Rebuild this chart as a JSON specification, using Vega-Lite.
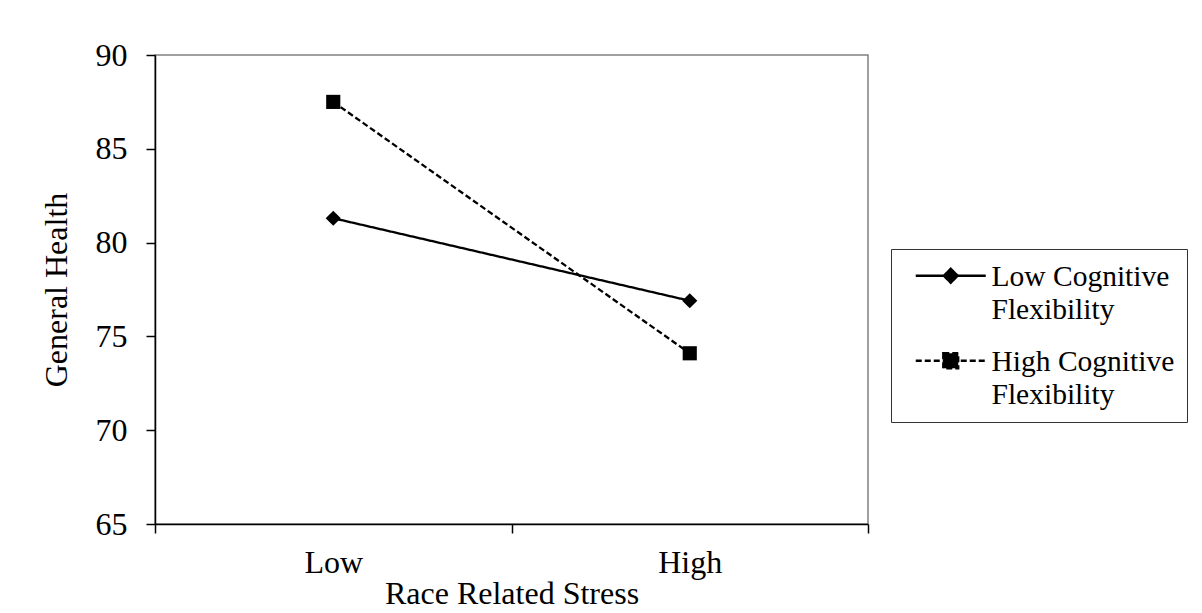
{
  "$schema": "https://vega.github.io/schema/vega-lite/v6.json",
  "autosize": "none",
  "width": 713,
  "height": 469,
  "padding": {"left": 155, "top": 55, "right": 334, "bottom": 89},
  "background": "white",
  "config": {
    "font": "Liberation Serif",
    "view": {"stroke": "#808080", "strokeWidth": 1.5},
    "axis": {
      "labelFont": "Liberation Serif",
      "titleFont": "Liberation Serif",
      "labelColor": "black",
      "titleColor": "black",
      "labelFontSize": 32,
      "titleFontSize": 32,
      "titleFontWeight": "normal",
      "domainColor": "black",
      "domainWidth": 1.5,
      "tickColor": "black",
      "tickWidth": 1.5,
      "tickSize": 9,
      "grid": false
    },
    "legend": {
      "labelFont": "Liberation Serif",
      "labelFontSize": 29.5,
      "labelColor": "black"
    }
  },
  "data": {
    "values": [
      {"stress": "Low", "group": "Low Cognitive Flexibility", "health": 81.3},
      {"stress": "High", "group": "Low Cognitive Flexibility", "health": 76.9},
      {"stress": "Low", "group": "High Cognitive Flexibility", "health": 87.5},
      {"stress": "High", "group": "High Cognitive Flexibility", "health": 74.1}
    ]
  },
  "encoding": {
    "x": {
      "field": "stress",
      "type": "nominal",
      "sort": ["Low", "High"],
      "scale": {"paddingInner": 0, "paddingOuter": 0},
      "axis": {
        "title": "Race Related Stress",
        "labelAngle": 0,
        "labelPadding": 14,
        "titlePadding": 0,
        "tickBand": "extent"
      }
    },
    "y": {
      "field": "health",
      "type": "quantitative",
      "scale": {"domain": [65, 90], "nice": false, "zero": false},
      "axis": {
        "title": "General Health",
        "values": [65, 70, 75, 80, 85, 90],
        "labelPadding": 19,
        "titlePadding": 22
      }
    }
  },
  "layer": [
    {
      "mark": {"type": "line", "color": "black", "strokeWidth": 2.3},
      "encoding": {
        "strokeDash": {
          "field": "group",
          "type": "nominal",
          "scale": {
            "domain": ["Low Cognitive Flexibility", "High Cognitive Flexibility"],
            "range": [[1, 0], [6, 3]]
          },
          "legend": {
            "title": null,
            "orient": "none",
            "legendX": 736,
            "legendY": 194,
            "padding": 12,
            "strokeColor": "#333333",
            "fillColor": "white",
            "symbolSize": 16,
            "symbolOffset": 33,
            "symbolStrokeWidth": 2.3,
            "symbolStrokeColor": "black",
            "symbolFillColor": "black",
            "labelLimit": 400,
            "labelOffset": 26,
            "labelBaseline": "alphabetic",
            "rowPadding": 21,
            "labelExpr": "datum.value === 'Low Cognitive Flexibility' ? ['Low Cognitive', 'Flexibility'] : ['High Cognitive\u00a0\u00a0\u00a0', 'Flexibility']",
            "encode": {
              "symbols": {
                "update": {
                  "shape": {"signal": "datum.value === 'Low Cognitive Flexibility' ? 'M-17.5,0H17.5M0,-3.5L3.5,0L0,3.5L-3.5,0Z' : 'M-17.5,0H17.5M-3.75,-3.75H3.75V3.75H-3.75Z'"},
                  "fill": {"value": "black"},
                  "stroke": {"value": "black"}
                }
              },
              "labels": {
                "update": {
                  "dy": {"value": 10},
                  "lineHeight": {"value": 33}
                }
              }
            }
          }
        }
      }
    },
    {
      "transform": [{"filter": "datum.group === 'Low Cognitive Flexibility'"}],
      "mark": {"type": "point", "filled": true, "color": "black", "opacity": 1, "size": 230, "shape": "diamond"}
    },
    {
      "transform": [{"filter": "datum.group === 'High Cognitive Flexibility'"}],
      "mark": {"type": "point", "filled": true, "color": "black", "opacity": 1, "size": 200, "shape": "square"}
    }
  ]
}
